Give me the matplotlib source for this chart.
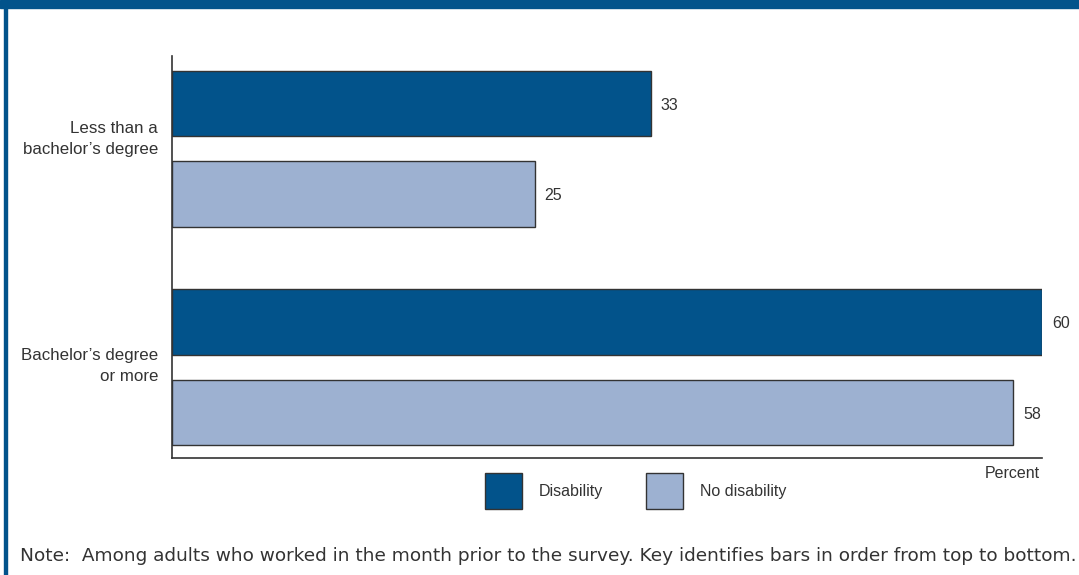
import numpy as np
import matplotlib.pyplot as plt
from matplotlib.patches import Rectangle

# Datos
categories = ["Less than a\nbachelor\u2019s degree", "Bachelor\u2019s degree\nor more"]
disability = [33, 60]
no_disability = [25, 58]
series_names = ["Disability", "No disability"]
note = "Note:  Among adults who worked in the month prior to the survey. Key identifies bars in order from top to bottom."

dark = "#02538B"
light = "#9DB1D1"
edge = "#333333"
txt = "#333333"

plt.rcParams["font.family"] = ["Liberation Sans", "DejaVu Sans"]

fig = plt.figure(figsize=(10.79, 5.75), dpi=100)
ax = fig.add_axes([172 / 1079, 1 - 458 / 575, 870 / 1079, 402 / 575])

groups = np.arange(len(categories)) * 2.414
h = 0.72
b1 = ax.barh(groups - 0.5, disability, height=h, color=dark, edgecolor=edge, linewidth=1, label=series_names[0])
b2 = ax.barh(groups + 0.5, no_disability, height=h, color=light, edgecolor=edge, linewidth=1, label=series_names[1])

for bars in (b1, b2):
    for r in bars:
        ax.text(r.get_width() + 0.7, r.get_y() + r.get_height() / 2 + 0.02, f"{r.get_width():.0f}",
                va="center", ha="left", fontsize=11.5, color=txt)

ax.set_xlim(0, 60)
ax.set_ylim(3.417, -1.025)
ax.set_yticks(groups + np.array([-0.155, -0.065]))
ax.set_yticklabels(categories, fontsize=12.2, color=txt, ha="right", linespacing=1.5)
ax.tick_params(axis="y", length=0, pad=10)
ax.set_xticks([])
for s in ["top", "right"]:
    ax.spines[s].set_visible(False)
for s in ["left", "bottom"]:
    ax.spines[s].set_color(edge)
    ax.spines[s].set_linewidth(1.2)

fig.text(1040 / 1079, 1 - 474 / 575, "Percent", ha="right", va="center", fontsize=11.5, color=txt)

leg = fig.legend(handles=[b1, b2], loc="upper left", bbox_to_anchor=(485 / 1079, 1 - 473 / 575),
                 ncol=2, frameon=False, fontsize=11.5, borderpad=0, borderaxespad=0,
                 handlelength=2.3, handleheight=3.08, handletextpad=1.06, columnspacing=2.69)
for t in leg.get_texts():
    t.set_color(txt)

fig.text(20 / 1079, 1 - 556 / 575, note,
         ha="left", va="center", fontsize=13.3, color=txt, family=["DejaVu Sans"])

# Marco
fig.patches.append(Rectangle((0, 1 - 8 / 575), 1, 8 / 575, transform=fig.transFigure, color=dark, zorder=5))
fig.patches.append(Rectangle((4 / 1079, 0), 2.5 / 1079, 1, transform=fig.transFigure, color=dark, zorder=5))

fig.savefig("out.png", dpi=100)
